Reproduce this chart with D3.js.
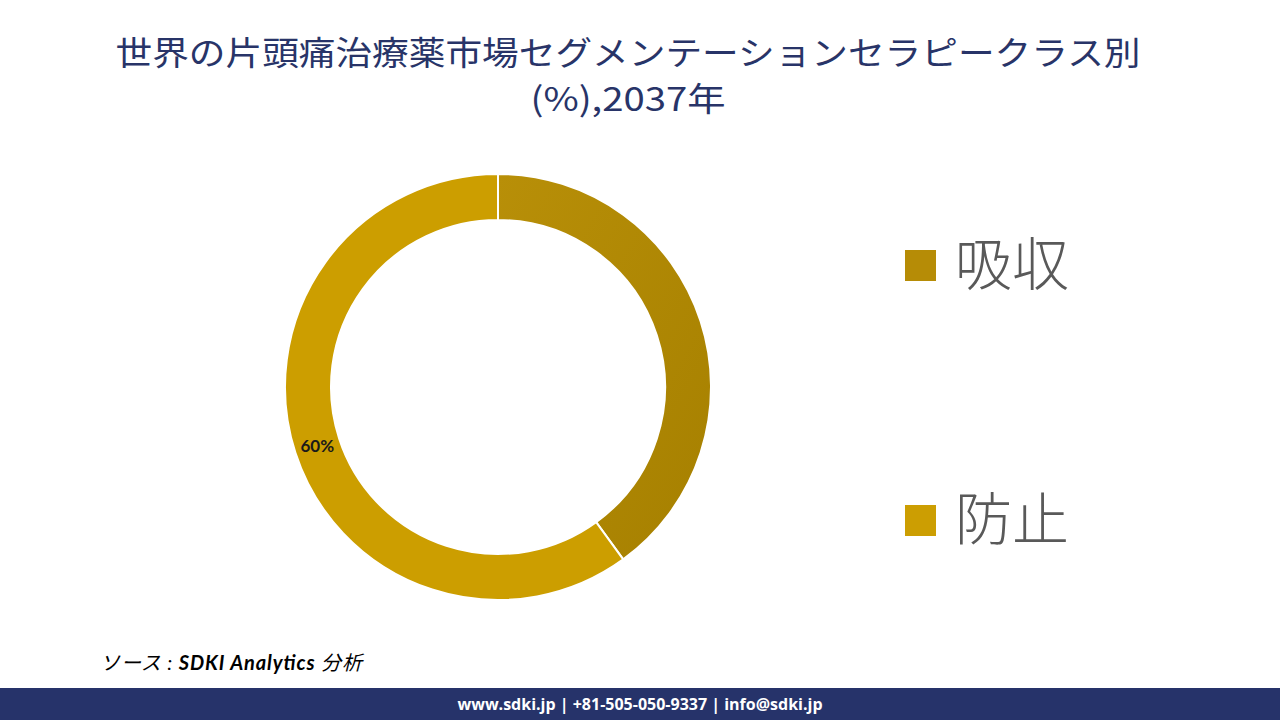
<!DOCTYPE html>
<html>
<head>
<meta charset="utf-8">
<script src="https://cdn.jsdelivr.net/npm/d3@7"></script>
<style>
  body { margin: 0; background: #fff; }
  #chartbox { width: 1280px; height: 720px; }
</style>
</head>
<body>
<div id="chartbox"></div>
<script>
// data
var categories = ['吸収', '防止'];
var shares = [40, 60];
var shownLabels = ['', '60%'];
var titleLines = ['世界の片頭痛治療薬市場セグメンテーションセラピークラス別', '(%),2037年'];

const width = 1280;
const height = 720;

var svg = d3.select('#chartbox').append('svg')
  .attr('width', width).attr('height', height)
  .attr('viewBox', [0, 0, width, height]);

var defs = svg.append('defs');
var grad = defs.append('linearGradient').attr('id', 'g0')
  .attr('x1', '0%').attr('y1', '0%').attr('x2', '100%').attr('y2', '100%');
grad.append('stop').attr('offset', '0%').attr('stop-color', '#b88f08');
grad.append('stop').attr('offset', '100%').attr('stop-color', '#a68000');

var colors = d3.scaleOrdinal().domain(categories).range(['url(#g0)', '#cc9e00']);
var legendColors = d3.scaleOrdinal().domain(categories).range(['#b68c06', '#cc9e02']);

// title
var titleWidths = [1025, 195];
svg.append('g').selectAll('text').data(titleLines).join('text')
  .attr('x', 628).attr('y', (d, i) => 65 + i * 46)
  .attr('text-anchor', 'middle')
  .style('font-family', '"Noto Sans CJK JP"')
  .style('font-size', '33px')
  .attr('fill', '#283468')
  .attr('textLength', (d, i) => titleWidths[i])
  .attr('lengthAdjust', 'spacingAndGlyphs')
  .text(d => d);

// donut
var cx = 498, cy = 387;
var outerR = 213, innerR = 167;
var pie = d3.pie().sort(null).value(d => d);
var arc = d3.arc().innerRadius(innerR).outerRadius(outerR);
var labelArc = d3.arc().innerRadius((innerR + outerR) / 2).outerRadius((innerR + outerR) / 2);

var g = svg.append('g').attr('transform', 'translate(' + cx + ',' + cy + ')');
var arcs = pie(shares);
g.selectAll('path').data(arcs).join('path')
  .attr('d', arc)
  .attr('fill', (d, i) => colors(categories[i]))
  .attr('stroke', '#fff').attr('stroke-width', 2);

g.selectAll('text').data(arcs).join('text')
  .attr('transform', d => 'translate(' + labelArc.centroid(d) + ')')
  .attr('text-anchor', 'middle').attr('dy', '0.35em')
  .style('font-family', 'Lato, "Noto Sans"')
  .style('font-weight', 'bold')
  .style('font-size', '17px')
  .attr('fill', '#1a1a1a')
  .text((d, i) => shownLabels[i]);

// legend
var legend = svg.append('g').selectAll('g').data(categories).join('g')
  .attr('transform', (d, i) => 'translate(905,' + (250 + i * 255) + ')');
legend.append('rect').attr('width', 31).attr('height', 31)
  .attr('fill', d => legendColors(d));
legend.append('text').attr('x', 50).attr('y', 35)
  .style('font-family', '"Noto Sans CJK JP"')
  .style('font-weight', '300')
  .style('font-size', '57px')
  .attr('fill', '#595959')
  .text(d => d);

// source
var src = svg.append('text').attr('x', 100).attr('y', 670)
  .style('font-family', 'Lato, "Noto Sans CJK JP"')
  .style('font-style', 'italic')
  .style('font-size', '20px').attr('fill', '#000')
  .attr('textLength', 262).attr('lengthAdjust', 'spacing');
src.append('tspan').text('ソース : ');
src.append('tspan').style('font-weight', 'bold').text('SDKI Analytics');
src.append('tspan').text(' 分析');

// footer
svg.append('rect').attr('x', 0).attr('y', 688).attr('width', width).attr('height', 32)
  .attr('fill', '#26336a');
svg.append('text').attr('x', 640).attr('y', 710).attr('text-anchor', 'middle')
  .style('font-family', '"Open Sans", Lato')
  .style('font-weight', 'bold').style('font-size', '16px')
  .attr('fill', '#fff')
  .text('www.sdki.jp | +81-505-050-9337 | info@sdki.jp');
</script>
</body>
</html>
